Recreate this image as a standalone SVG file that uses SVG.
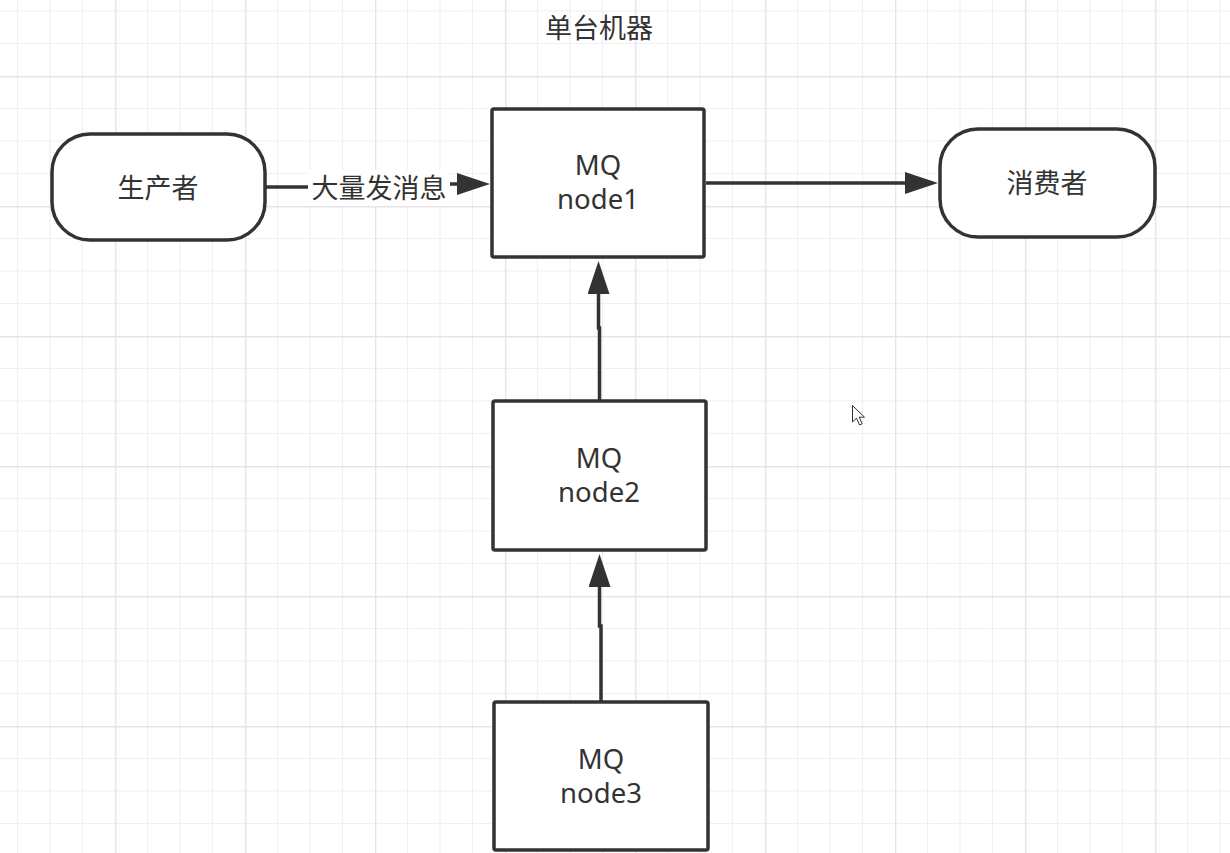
<svg xmlns="http://www.w3.org/2000/svg" width="1230" height="853" viewBox="0 0 1230 853">
<defs>
<pattern id="grid" patternUnits="userSpaceOnUse" x="-15" y="-54" width="130" height="130">
<path d="M32.5,0 V130 M65,0 V130 M97.5,0 V130 M0,32.5 H130 M0,65 H130 M0,97.5 H130" stroke="#f0f0f2" stroke-width="1.2" fill="none"/>
<path d="M0.5,0 V130 M0,0.5 H130" stroke="#e5e5e8" stroke-width="1.8" fill="none"/>
</pattern>
<marker id="arrow" markerUnits="userSpaceOnUse" markerWidth="34" markerHeight="22" refX="2" refY="11" orient="auto">
<path d="M0,0 L33,11 L0,22 Z" fill="#333333"/>
</marker>
<style>
.shape{fill:#ffffff;stroke:#333333;stroke-width:3.5}
.edge{fill:none;stroke:#333333;stroke-width:3.5;marker-end:url(#arrow)}
.t{font-family:"Noto Sans","Noto Sans CJK SC",sans-serif;font-size:27.5px;fill:#333333;text-anchor:middle}
.c{font-family:"Noto Sans CJK SC","Noto Sans",sans-serif;font-size:27px;fill:#333333;text-anchor:middle}
</style>
</defs>
<rect width="1230" height="853" fill="#ffffff"/>
<rect width="1230" height="853" fill="url(#grid)"/>
<text class="c" x="599" y="38">单台机器</text>
<g id="connectors">
<path class="edge" d="M265,187 H379 V184 H459"/>
<path class="edge" d="M706,183 H907"/>
<path class="edge" d="M599.5,401 V328 H598.5 V292"/>
<path class="edge" d="M601,702 V626 H599.5 V585"/>
<rect x="308" y="170" width="142" height="36" fill="#ffffff"/>
<text class="c" x="379" y="198">大量发消息</text>
</g>
<g id="producer">
<rect class="shape" x="52" y="134" width="213" height="106" rx="38" ry="38"/>
<text class="c" x="158" y="198">生产者</text>
</g>
<g id="node1">
<rect class="shape" x="492" y="109" width="212" height="148" rx="2"/>
<text class="t" x="598" y="175">MQ</text>
<text class="t" x="598" y="209">node1</text>
</g>
<g id="consumer">
<rect class="shape" x="940" y="129" width="215" height="108" rx="38" ry="38"/>
<text class="c" x="1047" y="193">消费者</text>
</g>
<g id="node2">
<rect class="shape" x="493" y="401" width="213" height="149" rx="2"/>
<text class="t" x="599" y="468">MQ</text>
<text class="t" x="599" y="502">node2</text>
</g>
<g id="node3">
<rect class="shape" x="494" y="702" width="214" height="148" rx="2"/>
<text class="t" x="601" y="769">MQ</text>
<text class="t" x="601" y="803">node3</text>
</g>
<path d="M852.5,405.5 V422 L856.5,418.2 L859.6,425 L862.2,423.8 L859.2,417.2 L864.5,417.2 Z" fill="#ffffff" stroke="#333333" stroke-width="1"/>
</svg>
